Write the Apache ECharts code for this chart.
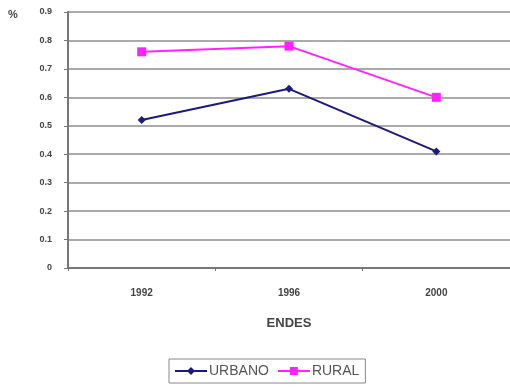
<!DOCTYPE html>
<html>
<head>
<meta charset="utf-8">
<script src="https://cdn.jsdelivr.net/npm/echarts@6/dist/echarts.min.js"></script>
<style>
  html, body { margin: 0; padding: 0; background: #fff; }
  #chart { width: 510px; height: 387px; }
</style>
</head>
<body>
<div id="chart"></div>
<script>
// Survey years (ENDES) and share per area
const years = ['1992', '1996', '2000'];
const urbano = [0.52, 0.63, 0.41];
const rural = [0.76, 0.78, 0.60];
const yTicks = { min: 0, max: 0.9, interval: 0.1 };

const chart = echarts.init(document.getElementById('chart'));
const font = 'Liberation Sans, Arial, sans-serif';

chart.setOption({
  animation: false,
  backgroundColor: '#ffffff',
  grid: { left: 68, right: -2, top: 12, bottom: 119 },
  graphic: [{
    type: 'text', left: 8, top: 9,
    style: { text: '%', font: 'bold 11px ' + font, fill: '#444' }
  }],
  legend: {
    bottom: 4, left: 169,
    itemWidth: 32, itemHeight: 10, itemGap: 8,
    borderColor: '#888', borderWidth: 1, borderRadius: 0,
    padding: [5, 6, 5, 5],
    textStyle: { fontFamily: font, fontSize: 14, color: '#555', padding: [0, 0, 0, -3] },
    data: ['URBANO', 'RURAL']
  },
  xAxis: {
    type: 'category',
    data: years,
    name: 'ENDES',
    nameLocation: 'middle',
    nameGap: 49,
    nameTextStyle: { fontFamily: font, fontSize: 13, color: '#444', fontWeight: 'bold' },
    axisLine: { lineStyle: { color: '#777', width: 2 } },
    axisTick: { show: true, alignWithLabel: false, length: 3, lineStyle: { color: '#777' } },
    axisLabel: { fontFamily: font, fontSize: 10, color: '#444', fontWeight: 'bold', margin: 20 }
  },
  yAxis: {
    type: 'value',
    min: yTicks.min, max: yTicks.max, interval: yTicks.interval,
    axisLine: { show: true, lineStyle: { color: '#777', width: 2 } },
    axisTick: { show: true, length: 4, lineStyle: { color: '#777' } },
    axisLabel: {
      fontFamily: font, fontSize: 9, color: '#444', fontWeight: 'bold', margin: 16,
      formatter: v => (v === 0 ? '0' : v.toFixed(1))
    },
    splitLine: { lineStyle: { color: '#aaa', width: 2 } }
  },
  series: [
    {
      name: 'URBANO', type: 'line', data: urbano,
      symbol: 'diamond', symbolSize: 8,
      lineStyle: { color: '#1a1a80', width: 2 },
      itemStyle: { color: '#1a1a80' }
    },
    {
      name: 'RURAL', type: 'line', data: rural,
      symbol: 'rect', symbolSize: 9,
      lineStyle: { color: '#ff22ff', width: 2 },
      itemStyle: { color: '#ff22ff' }
    }
  ]
});
</script>
</body>
</html>
